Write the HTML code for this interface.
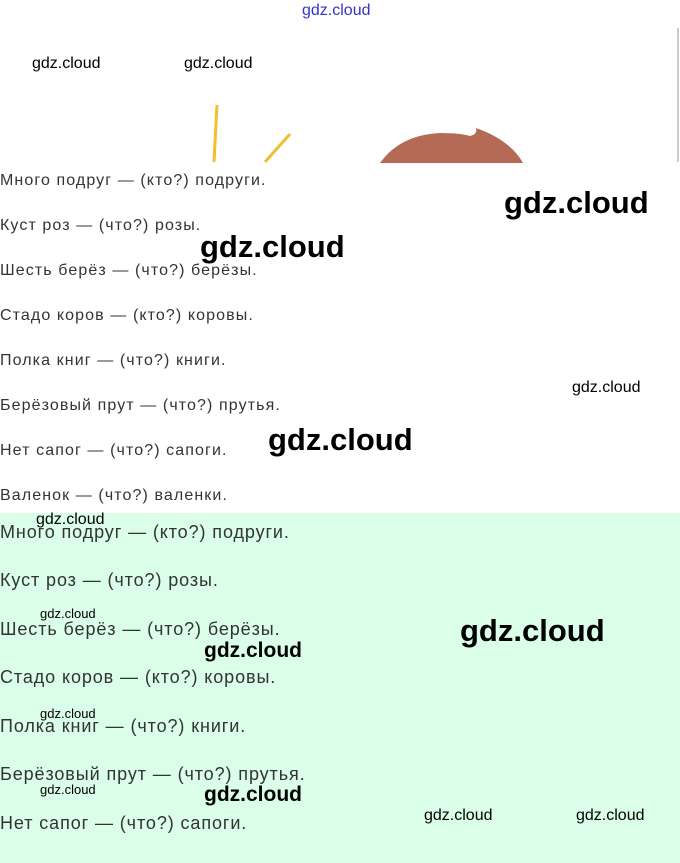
<!DOCTYPE html>
<html><head><meta charset="utf-8"><style>
body{margin:0;width:680px;height:863px;position:relative;overflow:hidden;background:#fff;font-family:"Liberation Sans",sans-serif}
.t{position:absolute;left:0;color:#333;white-space:nowrap;line-height:1}
.a{font-size:16px;letter-spacing:1.1px}
.b{font-size:18px;letter-spacing:0.9px}
.w{position:absolute;color:#000;white-space:nowrap;line-height:1;font-family:"Liberation Sans",sans-serif}
</style></head><body>
<div style="position:absolute;left:0;top:513px;width:680px;height:350px;background:#dafee8"></div>
<div style="position:absolute;left:677px;top:28px;width:2px;height:134px;background:#ccc"></div>
<svg style="position:absolute;left:0;top:0" width="680" height="165">
<line x1="217" y1="105" x2="214" y2="162" stroke="#f0c030" stroke-width="3"/>
<line x1="290" y1="134" x2="265" y2="162" stroke="#f0c030" stroke-width="3"/>
<path d="M380 163 Q400 135 440 133 Q460 133 470 136 Q478 134 476 128 Q510 140 523 163 Z" fill="#b56a56"/>
</svg>
<div class="w" style="left:302px;top:3px;font-size:16px;color:#33c">gdz.cloud</div>
<div class="w" style="left:32px;top:56px;font-size:16px">gdz.cloud</div>
<div class="w" style="left:184px;top:56px;font-size:16px">gdz.cloud</div>
<div class="t a" style="top:173px">Много подруг — (кто?) подруги.</div>
<div class="t a" style="top:218px">Куст роз — (что?) розы.</div>
<div class="t a" style="top:263px">Шесть берёз — (что?) берёзы.</div>
<div class="t a" style="top:308px">Стадо коров — (кто?) коровы.</div>
<div class="t a" style="top:353px">Полка книг — (что?) книги.</div>
<div class="t a" style="top:398px">Берёзовый прут — (что?) прутья.</div>
<div class="t a" style="top:443px">Нет сапог — (что?) сапоги.</div>
<div class="t a" style="top:488px">Валенок — (что?) валенки.</div>
<div class="t b" style="top:523px">Много подруг — (кто?) подруги.</div>
<div class="t b" style="top:571px">Куст роз — (что?) розы.</div>
<div class="t b" style="top:620px">Шесть берёз — (что?) берёзы.</div>
<div class="t b" style="top:668px">Стадо коров — (кто?) коровы.</div>
<div class="t b" style="top:717px">Полка книг — (что?) книги.</div>
<div class="t b" style="top:765px">Берёзовый прут — (что?) прутья.</div>
<div class="t b" style="top:814px">Нет сапог — (что?) сапоги.</div>
<div class="w" style="left:504px;top:187px;font-size:31px;font-weight:bold">gdz.cloud</div>
<div class="w" style="left:200px;top:231px;font-size:31px;font-weight:bold">gdz.cloud</div>
<div class="w" style="left:572px;top:380px;font-size:16px">gdz.cloud</div>
<div class="w" style="left:268px;top:424px;font-size:31px;font-weight:bold">gdz.cloud</div>
<div class="w" style="left:36px;top:512px;font-size:16px">gdz.cloud</div>
<div class="w" style="left:40px;top:607px;font-size:13px">gdz.cloud</div>
<div class="w" style="left:460px;top:615px;font-size:31px;font-weight:bold">gdz.cloud</div>
<div class="w" style="left:204px;top:640px;font-size:21px;font-weight:bold">gdz.cloud</div>
<div class="w" style="left:40px;top:707px;font-size:13px">gdz.cloud</div>
<div class="w" style="left:40px;top:783px;font-size:13px">gdz.cloud</div>
<div class="w" style="left:204px;top:784px;font-size:21px;font-weight:bold">gdz.cloud</div>
<div class="w" style="left:424px;top:808px;font-size:16px">gdz.cloud</div>
<div class="w" style="left:576px;top:808px;font-size:16px">gdz.cloud</div>
</body></html>
